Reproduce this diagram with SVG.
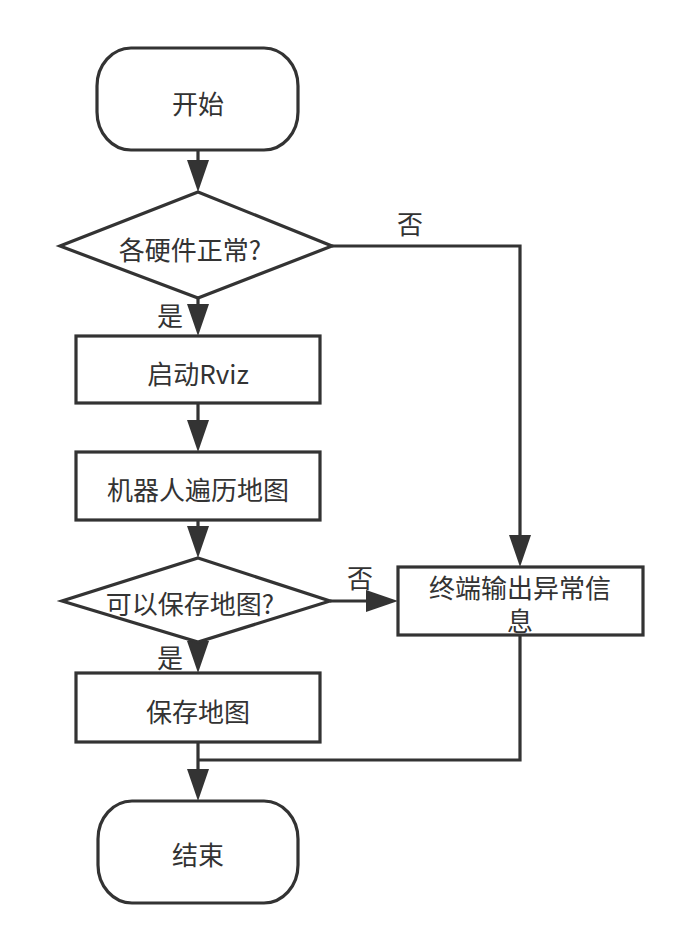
<svg xmlns="http://www.w3.org/2000/svg" width="692" height="952" viewBox="0 0 692 952">
<defs>
<style>
.shape{fill:#ffffff;stroke:#333333;stroke-width:3.2}
.conn{fill:none;stroke:#333333;stroke-width:3.2}
.t{font-family:"Noto Sans CJK SC","Noto Sans",sans-serif;font-size:26px;fill:#333333;text-anchor:middle}
</style>
<marker id="arr" markerUnits="userSpaceOnUse" markerWidth="34" markerHeight="24" refX="26" refY="11" orient="auto">
<path d="M0,0 L32,11 L0,22 Z" fill="#333333"/>
</marker>
</defs>
<rect width="692" height="952" fill="#ffffff"/>
<g id="connectors">
<path class="conn" d="M198,150 V186" marker-end="url(#arr)"/>
<path class="conn" d="M198,298 V330" marker-end="url(#arr)"/>
<path class="conn" d="M198,403 V446" marker-end="url(#arr)"/>
<path class="conn" d="M198,520 V552" marker-end="url(#arr)"/>
<path class="conn" d="M198,642 V667" marker-end="url(#arr)"/>
<path class="conn" d="M198,742 V795" marker-end="url(#arr)"/>
<path class="conn" d="M332,246 H520 V561" marker-end="url(#arr)"/>
<path class="conn" d="M330,601 H392" marker-end="url(#arr)"/>
<path class="conn" d="M520,635 V760 H198"/>
<text class="t" x="410" y="234">否</text>
<text class="t" x="170" y="326">是</text>
<text class="t" x="360" y="588">否</text>
<text class="t" x="170" y="668">是</text>
</g>
<g id="start">
<rect class="shape" x="97" y="48" width="201" height="102" rx="34" ry="38"/>
<text class="t" x="198" y="114">开始</text>
</g>
<g id="check-hw">
<polygon class="shape" points="198,192 332,246 198,298 60,246"/>
<text class="t" x="190" y="260">各硬件正常?</text>
</g>
<g id="start-rviz">
<rect class="shape" x="76" y="336" width="244" height="67"/>
<text class="t" x="198" y="384">启动Rviz</text>
</g>
<g id="traverse">
<rect class="shape" x="76" y="452" width="244" height="68"/>
<text class="t" x="198" y="500">机器人遍历地图</text>
</g>
<g id="check-save">
<polygon class="shape" points="198,558 330,601 198,642 62,601"/>
<text class="t" x="190" y="614">可以保存地图?</text>
</g>
<g id="save-map">
<rect class="shape" x="76" y="673" width="244" height="69"/>
<text class="t" x="198" y="722">保存地图</text>
</g>
<g id="error">
<rect class="shape" x="398" y="567" width="245" height="68"/>
<text class="t" x="520" y="598">终端输出异常信</text>
<text class="t" x="520" y="631">息</text>
</g>
<g id="end">
<rect class="shape" x="98" y="801" width="200" height="102" rx="34" ry="38"/>
<text class="t" x="198" y="865">结束</text>
</g>
</svg>
